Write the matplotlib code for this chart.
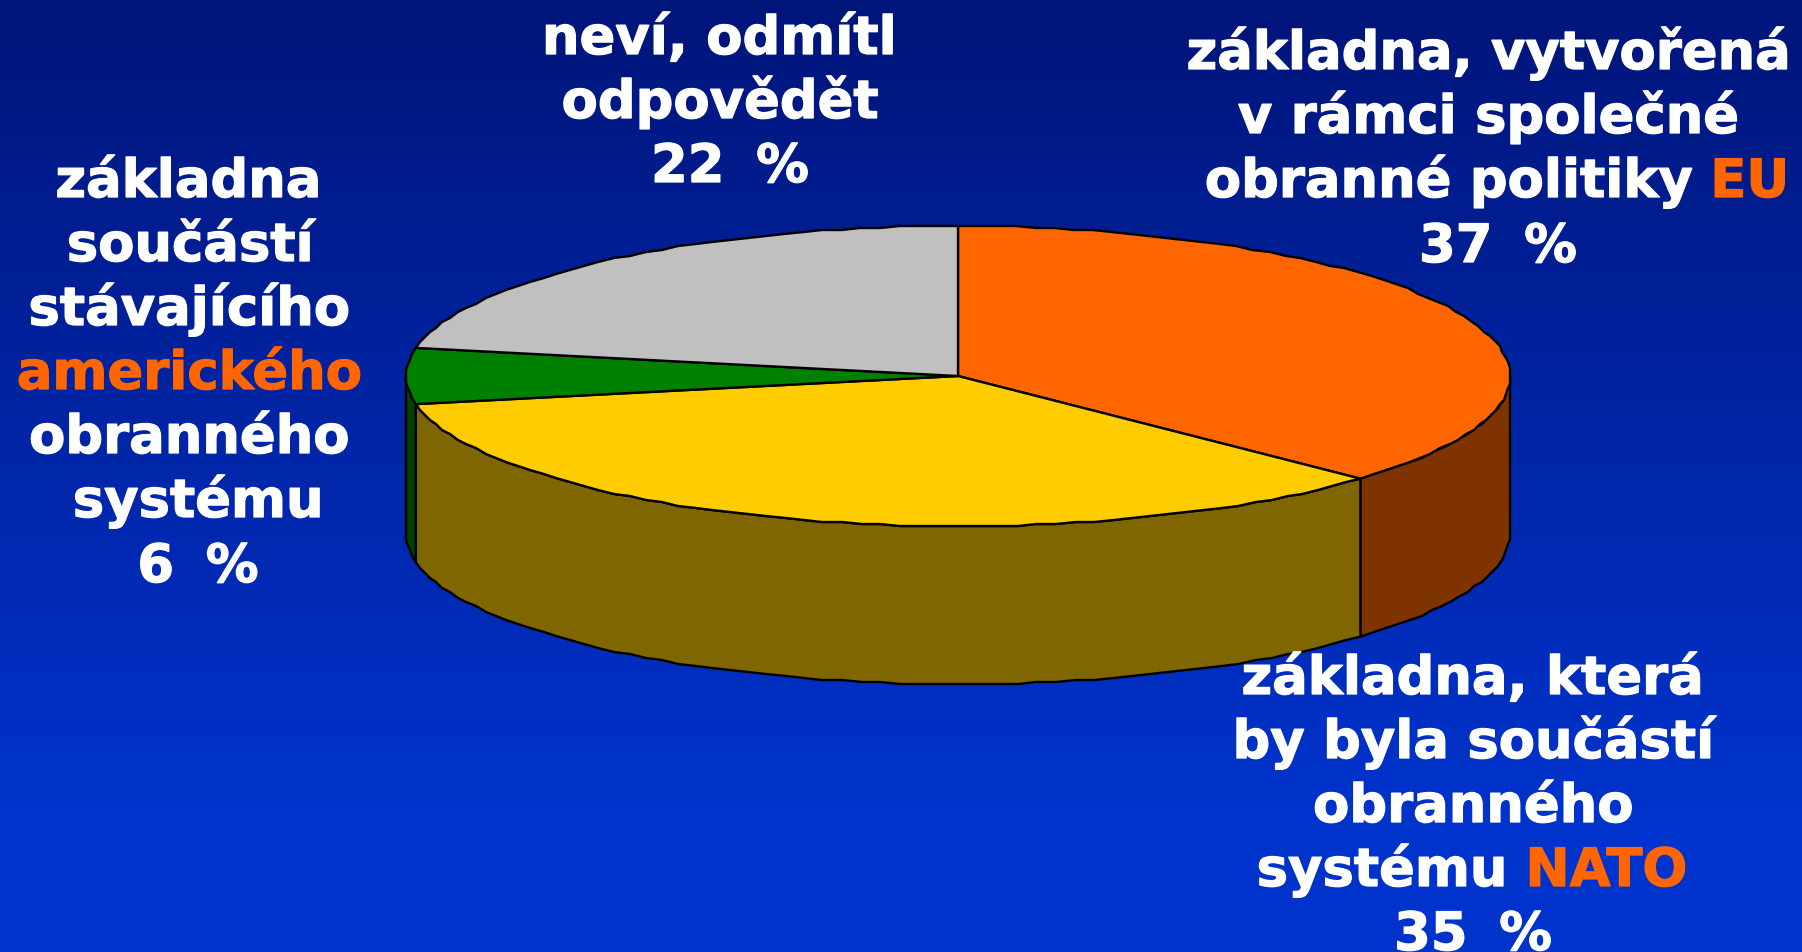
import numpy as np
import matplotlib
matplotlib.use("Agg")
import matplotlib.pyplot as plt
import matplotlib.patheffects as pe

WIDTH, HEIGHT = 1802, 952

# share of answers, clockwise from 12 o'clock
values = [37, 35, 6, 22]
top_colors = ["#FF6600", "#FFCC00", "#008000", "#C0C0C0"]
wall_colors = ["#7F3300", "#806600", "#004000", "#606060"]

WHITE = "#FFFFFF"
ORANGE = "#FF6600"
# the original face has a wider space than DejaVu
GAP = "\u2002\u200a"

label_eu = [
    [("základna, vytvořená", WHITE)],
    [("v rámci společné", WHITE)],
    [("obranné politiky ", WHITE), ("EU", ORANGE)],
    [("37" + GAP + "%", WHITE)],
]
label_nato = [
    [("základna, která", WHITE)],
    [("by byla součástí", WHITE)],
    [("obranného", WHITE)],
    [("systému ", WHITE), ("NATO", ORANGE)],
    [("35" + GAP + "%", WHITE)],
]
label_us = [
    [("základna", WHITE)],
    [("součástí", WHITE)],
    [("stávajícího", WHITE)],
    [("amerického", ORANGE)],
    [("obranného", WHITE)],
    [("systému", WHITE)],
    [("6" + GAP + "%", WHITE)],
]
label_dk = [
    [("neví, odmítl", WHITE)],
    [("odpovědět", WHITE)],
    [("22" + GAP + "%", WHITE)],
]

# pie geometry in pixels
CX, CY, RX, RY, DEPTH = 958, 376, 552, 150, 158
FONT = 38


def arc(a0, a1):
    # outline of the ellipse, snapped a little like the low res original
    n = max(2, int(abs(a1 - a0) / 2.0) + 1)
    t = np.deg2rad(np.linspace(a0, a1, n))
    x = CX + RX * np.cos(t)
    y = CY - RY * np.sin(t)
    x[1:-1] = np.round(x[1:-1] / 2) * 2
    y[1:-1] = np.round(y[1:-1] / 2) * 2
    return x, y


def draw_pie(ax):
    bounds = 90 - 3.6 * np.cumsum([0] + values)
    # walls of the front half only
    for i in range(len(values)):
        a0 = min(bounds[i], 0)
        a1 = max(bounds[i + 1], -180)
        if a0 <= a1:
            continue
        x, y = arc(a0, a1)
        xs = np.r_[x, x[::-1]]
        ys = np.r_[y, y[::-1] + DEPTH]
        ax.fill(xs, ys, fc=wall_colors[i], ec="black", lw=1.7, joinstyle="round", zorder=2)
    # top faces
    for i in range(len(values)):
        x, y = arc(bounds[i], bounds[i + 1])
        ax.fill(np.r_[CX, x], np.r_[CY, y], fc=top_colors[i], ec="black", lw=1.7,
                joinstyle="round", zorder=3)


def text_width(ax, s):
    t = ax.text(0, 0, s, fontsize=FONT, fontweight="bold")
    w = t.get_window_extent(ax.figure.canvas.get_renderer()).width
    t.remove()
    return w


def draw_line(ax, runs, xc, base):
    whole = "".join(r[0] for r in runs)
    total = text_width(ax, whole)
    left = xc - total / 2
    for i, (s, color) in enumerate(runs):
        # trailing spaces do not measure reliably, so go from the right end
        rest = "".join(r[0] for r in runs[i + 1:])
        x = left if i == 0 else left + total - text_width(ax, s + rest)
        t = ax.text(x, base, s, color=color, fontsize=FONT, fontweight="bold",
                    ha="left", va="baseline", zorder=5)
        # the original face is a bit heavier than DejaVu bold
        t.set_path_effects([pe.withStroke(linewidth=0.9, foreground=color)])


plt.rcParams["font.family"] = ["DejaVu Sans"]
fig = plt.figure(figsize=(WIDTH / 100, HEIGHT / 100), dpi=100)
ax = fig.add_axes([0, 0, 1, 1])
ax.set_xlim(0, WIDTH)
ax.set_ylim(HEIGHT, 0)
ax.axis("off")

# background gradient
grad = np.linspace(0, 1, HEIGHT)[:, None, None]
c0 = np.array([0, 21, 122]) / 255
c1 = np.array([0, 51, 204]) / 255
ax.imshow(c0 + (c1 - c0) * np.clip(grad / 0.85, 0, 1), extent=(0, WIDTH, HEIGHT, 0),
          aspect="auto", zorder=0)

draw_pie(ax)

for runs, xc, base in zip(label_eu, [1488, 1488, 1497, 1498], [69, 133, 197, 262]):
    draw_line(ax, runs, xc, base)
for runs, xc, base in zip(label_nato, [1472, 1473, 1473, 1472, 1473], [694, 758, 822, 886, 950]):
    draw_line(ax, runs, xc, base)
for runs, xc, base in zip(label_us, [188, 190, 189, 189, 189, 198, 198],
                          [197, 261, 325, 389, 453, 517, 582]):
    draw_line(ax, runs, xc, base)
for runs, xc, base in zip(label_dk, [719, 720, 730], [54, 118, 182]):
    draw_line(ax, runs, xc, base)

fig.savefig("out.png", dpi=100)
